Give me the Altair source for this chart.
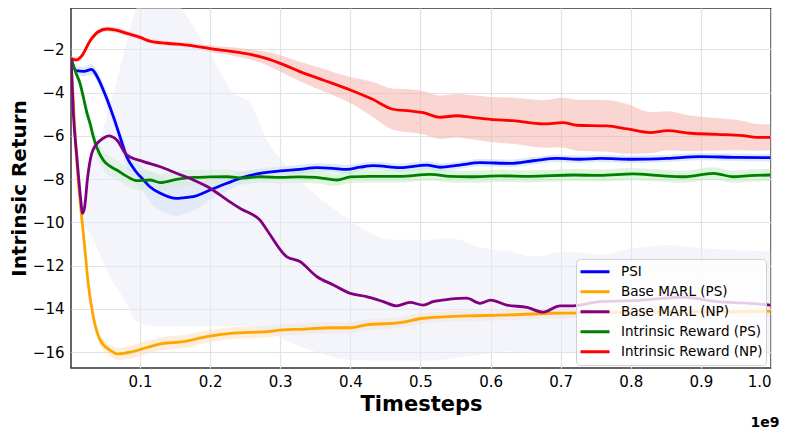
import altair as alt
import pandas as pd

SERIES = ["PSI", "Base MARL (PS)", "Base MARL (NP)", "Intrinsic Reward (PS)", "Intrinsic Reward (NP)"]
LINE_COLORS = ["#0000ff", "#ffa500", "#800080", "#008000", "#ff0000"]
BAND_COLORS = ["#bcd6f0", "#fcdcb8", "#e9e9f7", "#b8eeb8", "#f6aea6"]

# ---- PSI ----
psi_t = [0.0016, 0.0087, 0.02, 0.031, 0.036, 0.0476, 0.062, 0.0715, 0.081, 0.093, 0.105, 0.114, 0.129, 0.152,
         0.164, 0.176, 0.2, 0.224, 0.247, 0.271, 0.3, 0.328, 0.352, 0.375, 0.395, 0.414, 0.433, 0.471, 0.509,
         0.528, 0.556, 0.585, 0.628, 0.661, 0.695, 0.728, 0.756, 0.803, 0.852, 0.899, 0.946, 0.999]
psi_v = [-2.42, -2.99, -3.02, -2.93, -3.1, -3.88, -5.11, -6.04, -6.96, -7.6, -8.04, -8.35, -8.65, -8.89,
         -8.85, -8.81, -8.5, -8.19, -7.92, -7.73, -7.62, -7.55, -7.47, -7.5, -7.55, -7.45, -7.38, -7.47, -7.35,
         -7.45, -7.35, -7.24, -7.27, -7.15, -7.04, -7.08, -7.04, -7.08, -7.04, -6.96, -6.99, -7.01]
psi_sd = [0.1, 0.2, 0.22, 0.25, 0.25, 0.3, 0.35, 0.4, 0.45, 0.5, 0.55, 0.7, 0.8, 0.8,
          0.75, 0.65, 0.45, 0.35, 0.28, 0.22, 0.2, 0.2, 0.2, 0.2, 0.2, 0.18, 0.18, 0.18, 0.18,
          0.18, 0.17, 0.17, 0.17, 0.17, 0.17, 0.17, 0.17, 0.17, 0.17, 0.17, 0.17, 0.17]

# ---- Base MARL (PS) ----
bps_t = [0.0016, 0.0058, 0.01, 0.0144, 0.0215, 0.026, 0.0334, 0.043, 0.057, 0.069, 0.09, 0.114, 0.129, 0.162,
         0.195, 0.233, 0.281, 0.304, 0.328, 0.376, 0.4, 0.423, 0.471, 0.504, 0.566, 0.614, 0.685, 0.756, 0.852,
         0.946, 0.999]
bps_v = [-2.42, -5.0, -7.3, -8.96, -11.27, -12.8, -14.36, -15.43, -15.9, -16.08, -15.97, -15.74, -15.62, -15.51,
         -15.28, -15.12, -15.05, -14.97, -14.94, -14.87, -14.87, -14.74, -14.63, -14.43, -14.32, -14.29, -14.2,
         -14.17, -14.13, -14.13, -14.1]
bps_sd = [0.1, 0.15, 0.2, 0.2, 0.2, 0.2, 0.2, 0.22, 0.25, 0.28, 0.3, 0.3, 0.3, 0.3,
          0.28, 0.27, 0.26, 0.25, 0.25, 0.25, 0.25, 0.25, 0.25, 0.25, 0.24, 0.24, 0.24,
          0.24, 0.24, 0.24, 0.24]

# ---- Base MARL (NP) ----
bnp_t = [0.0016, 0.005, 0.01, 0.015, 0.018, 0.021, 0.025, 0.033, 0.0476, 0.055, 0.067, 0.081, 0.105, 0.129,
         0.152, 0.176, 0.2, 0.224, 0.247, 0.257, 0.271, 0.281, 0.309, 0.328, 0.352, 0.376, 0.4, 0.423, 0.447,
         0.466, 0.485, 0.504, 0.518, 0.542, 0.566, 0.585, 0.6, 0.623, 0.652, 0.675, 0.699, 0.718, 0.756, 0.803,
         0.875, 0.923, 0.97, 0.999]
bnp_v = [-2.42, -5.0, -7.0, -8.8, -9.58, -9.3, -8.0, -6.65, -6.11, -6.0, -6.19, -6.88, -7.19, -7.43,
         -7.73, -8.04, -8.42, -8.96, -9.43, -9.58, -9.89, -10.35, -11.58, -11.81, -12.5, -12.89, -13.28, -13.43,
         -13.66, -13.86, -13.7, -13.82, -13.66, -13.55, -13.5, -13.74, -13.59, -13.82, -13.93, -14.15, -13.86,
         -13.86, -13.66, -13.62, -13.46, -13.66, -13.74, -13.82]
bnp_band_t = [0.0016, 0.01, 0.019, 0.029, 0.043, 0.057, 0.071, 0.081, 0.096, 0.129, 0.167, 0.2, 0.233, 0.257,
              0.281, 0.304, 0.343, 0.4, 0.457, 0.518, 0.542, 0.589, 0.628, 0.66, 0.709, 0.756, 0.803, 0.852,
              0.899, 0.946, 0.999]
bnp_lo = [-2.5, -8.0, -10.0, -10.5, -11.5, -12.5, -13.2, -13.8, -14.6, -14.8, -14.8, -14.8, -14.8, -14.8,
          -15.0, -15.4, -15.9, -16.36, -16.4, -16.4, -16.3, -16.1, -15.95, -16.05, -16.0, -15.9, -15.95, -15.97,
          -16.0, -16.05, -16.0]
bnp_hi = [-2.35, -6.0, -9.0, -7.5, -6.2, -4.6, -2.93, -1.7, 0.0, 1.0, -0.5, -2.2, -4.0, -4.5,
          -6.2, -7.2, -8.5, -9.9, -10.8, -10.8, -10.73, -11.2, -11.35, -11.58, -11.35, -11.5, -11.2, -11.04,
          -11.2, -11.27, -11.35]

# ---- Intrinsic Reward (PS) ----
irps_t = [0.0016, 0.0087, 0.0144, 0.019, 0.024, 0.0287, 0.0334, 0.038, 0.0476, 0.057, 0.0668, 0.08, 0.095, 0.114,
          0.129, 0.152, 0.176, 0.2, 0.224, 0.247, 0.271, 0.3, 0.328, 0.351, 0.381, 0.4, 0.428, 0.471, 0.514,
          0.542, 0.571, 0.614, 0.656, 0.718, 0.756, 0.803, 0.842, 0.875, 0.918, 0.946, 0.97, 0.999]
irps_v = [-2.42, -3.1, -3.57, -4.19, -4.9, -5.42, -6.04, -6.5, -7.12, -7.4, -7.58, -7.85, -8.07, -8.04,
          -8.16, -8.01, -7.92, -7.9, -7.89, -7.95, -7.89, -7.92, -7.9, -7.92, -8.04, -7.9, -7.87, -7.87, -7.78,
          -7.87, -7.89, -7.85, -7.87, -7.81, -7.83, -7.76, -7.84, -7.89, -7.73, -7.89, -7.84, -7.81]
irps_sd = [0.1, 0.15, 0.2, 0.25, 0.3, 0.3, 0.35, 0.4, 0.45, 0.45, 0.45, 0.45, 0.45, 0.42,
           0.4, 0.38, 0.35, 0.33, 0.32, 0.3] + [0.28] * 22

# ---- Intrinsic Reward (NP) ----
irnp_t = [0.0016, 0.0087, 0.017, 0.029, 0.040, 0.0525, 0.064, 0.081, 0.1, 0.114, 0.138, 0.171, 0.2, 0.236,
          0.271, 0.3, 0.328, 0.364, 0.4, 0.431, 0.461, 0.485, 0.504, 0.528, 0.552, 0.571, 0.6, 0.632, 0.675,
          0.703, 0.723, 0.766, 0.795, 0.828, 0.852, 0.885, 0.923, 0.96, 0.98, 0.999]
irnp_v = [-2.42, -2.49, -2.3, -1.6, -1.2, -1.06, -1.1, -1.26, -1.45, -1.62, -1.72, -1.82, -1.97, -2.12,
          -2.34, -2.65, -3.03, -3.45, -3.88, -4.3, -4.77, -4.85, -4.93, -5.14, -5.07, -5.13, -5.24, -5.30, -5.45,
          -5.39, -5.51, -5.54, -5.68, -5.85, -5.76, -5.88, -5.93, -5.99, -6.07, -6.07]
irnp_sd = [0.1, 0.12, 0.12, 0.12, 0.12, 0.12, 0.12, 0.12, 0.12, 0.12, 0.12, 0.13, 0.15, 0.2,
           0.27, 0.38, 0.45, 0.52, 0.6, 0.8, 0.95, 1.0, 1.0, 1.0, 1.0, 1.02, 1.04, 1.07, 1.1,
           1.15, 1.18, 1.2, 1.15, 0.95, 0.9, 0.82, 0.75, 0.68, 0.62, 0.6]

X_TICKS = [0.1, 0.2, 0.3, 0.4, 0.5, 0.6, 0.7, 0.8, 0.9, 1.0]
Y_TICKS = [-16, -14, -12, -10, -8, -6, -4, -2]

# ---- build tables ----
line_rows = []
band_rows = []
sym = [(SERIES[0], psi_t, psi_v, psi_sd), (SERIES[1], bps_t, bps_v, bps_sd),
       (SERIES[3], irps_t, irps_v, irps_sd), (SERIES[4], irnp_t, irnp_v, irnp_sd)]
for name, ts, vs, sds in sym:
    for t, v, s in zip(ts, vs, sds):
        line_rows.append({"t": t, "v": v, "series": name})
        band_rows.append({"t": t, "lo": v - s, "hi": v + s, "series": name})
for t, v in zip(bnp_t, bnp_v):
    line_rows.append({"t": t, "v": v, "series": SERIES[2]})
for t, lo, hi in zip(bnp_band_t, bnp_lo, bnp_hi):
    band_rows.append({"t": t, "lo": lo, "hi": hi, "series": SERIES[2]})

lines_df = pd.DataFrame(line_rows)
bands_df = pd.DataFrame(band_rows)
order = {s: i for i, s in enumerate(SERIES)}
lines_df["o"] = lines_df["series"].map(order)
bands_df["o"] = bands_df["series"].map(order)

xscale = alt.Scale(domain=[0.00157, 1.0], nice=False, zero=False)
yscale = alt.Scale(domain=[-16.73, -0.09], nice=False, zero=False)

x_axis = alt.Axis(values=X_TICKS, format=".1f", title="Timesteps", titleFontSize=21, titleFontWeight="bold",
                  labelFontSize=15, tickSize=0, labelPadding=6, titlePadding=4, domain=False,
                  gridColor="#e2e2e2", gridWidth=1.2, labelColor="black", titleColor="black")
y_axis = alt.Axis(values=Y_TICKS, format="d", title="Intrinsic Return", titleFontSize=20, titleFontWeight="bold",
                  labelFontSize=15, tickSize=0, labelPadding=7, titlePadding=3, domain=False,
                  gridColor="#e2e2e2", gridWidth=1.2, labelColor="black", titleColor="black")

bands = alt.Chart(bands_df).mark_area(opacity=0.5, clip=True, interpolate="monotone").encode(
    x=alt.X("t:Q", scale=xscale, axis=x_axis),
    y=alt.Y("lo:Q", scale=yscale, axis=y_axis),
    y2="hi:Q",
    color=alt.Color("series:N", scale=alt.Scale(domain=SERIES, range=BAND_COLORS), legend=None),
    order=alt.Order("o:Q"),
)

lines = alt.Chart(lines_df).mark_line(strokeWidth=2.8, clip=True, interpolate="monotone").encode(
    x=alt.X("t:Q", scale=xscale),
    y=alt.Y("v:Q", scale=yscale),
    color=alt.Color("series:N", scale=alt.Scale(domain=SERIES, range=LINE_COLORS),
                    legend=alt.Legend(title=None, orient="none", legendX=505, legendY=251,
                                      symbolType="stroke", symbolStrokeWidth=3, symbolSize=841,
                                      labelFontSize=13.5, labelColor="black", labelOffset=10,
                                      clipHeight=19.5, rowPadding=0, padding=3,
                                      fillColor="rgba(255,255,255,0.8)",
                                      strokeColor="#d0d0d0", cornerRadius=4)),
    order=alt.Order("o:Q"),
    detail="series:N",
)

chart = alt.layer(bands, lines).resolve_scale(color="independent").properties(
    width=700, height=360,
    autosize=alt.AutoSizeParams(type="none"),
    padding={"left": 63, "top": 0, "right": 14, "bottom": 66},
    title=alt.TitleParams(text="1e9", orient="bottom", anchor="end", fontSize=14, fontWeight="bold",
                          dx=8, offset=2, color="black"),
).configure(font="DejaVu Sans").configure_view(stroke="#333333", strokeWidth=1.5)

chart.save("out.html", embed_options={"renderer": "svg", "actions": False})
